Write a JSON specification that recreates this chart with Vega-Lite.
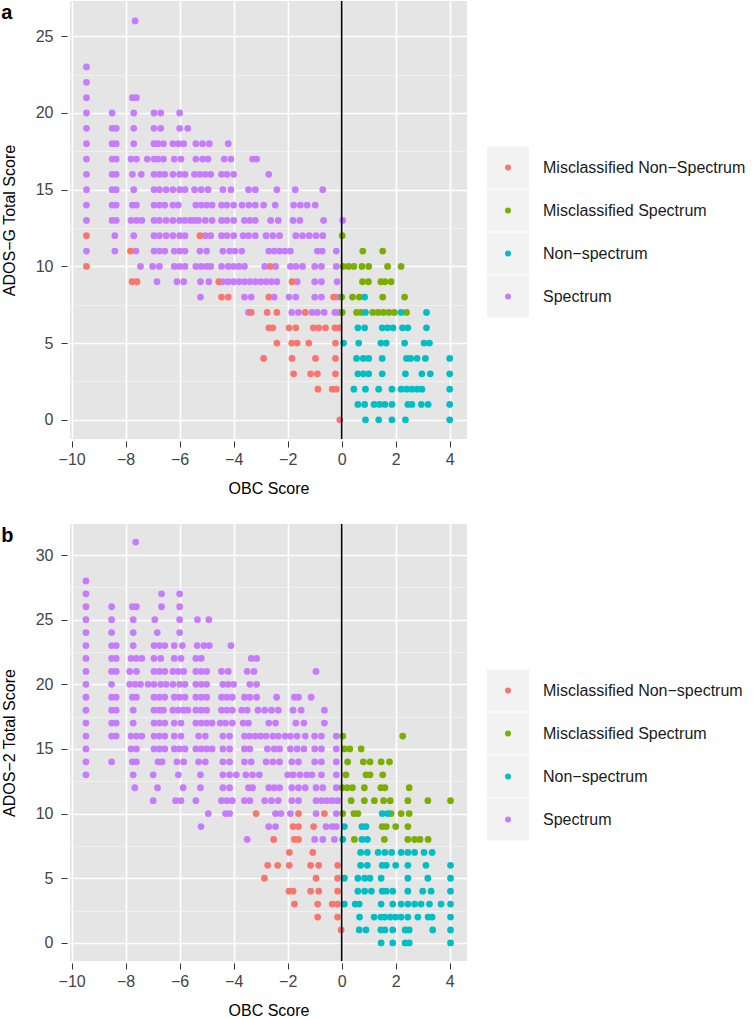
{
"$schema": "https://vega.github.io/schema/vega-lite/v6.json",
"padding": {"left": 1, "top": 0, "right": 0, "bottom": 0},
"datasets": {
"a": [
{"x":-7.65,"y":26,"g":"S"},
{"x":-9.45,"y":23,"g":"S"},
{"x":-9.45,"y":22,"g":"S"},
{"x":-9.45,"y":21,"g":"S"},{"x":-7.75,"y":21,"g":"S"},{"x":-7.6,"y":21,"g":"S"},
{"x":-9.45,"y":20,"g":"S"},{"x":-8.5,"y":20,"g":"S"},{"x":-7.7,"y":20,"g":"S"},{"x":-6.95,"y":20,"g":"S"},{"x":-6.7,"y":20,"g":"S"},{"x":-6.0,"y":20,"g":"S"},
{"x":-9.45,"y":19,"g":"S"},{"x":-8.5,"y":19,"g":"S"},{"x":-8.35,"y":19,"g":"S"},{"x":-7.7,"y":19,"g":"S"},{"x":-6.95,"y":19,"g":"S"},{"x":-6.7,"y":19,"g":"S"},{"x":-6.0,"y":19,"g":"S"},{"x":-5.7,"y":19,"g":"S"},
{"x":-9.45,"y":18,"g":"S"},{"x":-8.5,"y":18,"g":"S"},{"x":-8.35,"y":18,"g":"S"},{"x":-7.7,"y":18,"g":"S"},{"x":-6.95,"y":18,"g":"S"},{"x":-6.8,"y":18,"g":"S"},{"x":-6.6,"y":18,"g":"S"},{"x":-6.25,"y":18,"g":"S"},{"x":-6.05,"y":18,"g":"S"},{"x":-5.85,"y":18,"g":"S"},{"x":-5.4,"y":18,"g":"S"},{"x":-5.15,"y":18,"g":"S"},{"x":-4.9,"y":18,"g":"S"},{"x":-4.2,"y":18,"g":"S"},
{"x":-9.45,"y":17,"g":"S"},{"x":-8.5,"y":17,"g":"S"},{"x":-8.35,"y":17,"g":"S"},{"x":-7.8,"y":17,"g":"S"},{"x":-7.6,"y":17,"g":"S"},{"x":-7.2,"y":17,"g":"S"},{"x":-6.95,"y":17,"g":"S"},{"x":-6.8,"y":17,"g":"S"},{"x":-6.6,"y":17,"g":"S"},{"x":-6.2,"y":17,"g":"S"},{"x":-5.95,"y":17,"g":"S"},{"x":-5.4,"y":17,"g":"S"},{"x":-5.15,"y":17,"g":"S"},{"x":-4.95,"y":17,"g":"S"},{"x":-4.35,"y":17,"g":"S"},{"x":-4.1,"y":17,"g":"S"},{"x":-3.3,"y":17,"g":"S"},{"x":-3.15,"y":17,"g":"S"},
{"x":-9.45,"y":16,"g":"S"},{"x":-8.5,"y":16,"g":"S"},{"x":-8.35,"y":16,"g":"S"},{"x":-7.75,"y":16,"g":"S"},{"x":-7.42,"y":16,"g":"S"},{"x":-6.95,"y":16,"g":"S"},{"x":-6.75,"y":16,"g":"S"},{"x":-6.55,"y":16,"g":"S"},{"x":-6.25,"y":16,"g":"S"},{"x":-6.0,"y":16,"g":"S"},{"x":-5.8,"y":16,"g":"S"},{"x":-5.45,"y":16,"g":"S"},{"x":-5.25,"y":16,"g":"S"},{"x":-5.05,"y":16,"g":"S"},{"x":-4.85,"y":16,"g":"S"},{"x":-4.45,"y":16,"g":"S"},{"x":-4.25,"y":16,"g":"S"},{"x":-4.0,"y":16,"g":"S"},{"x":-2.7,"y":16,"g":"S"},
{"x":-9.45,"y":15,"g":"S"},{"x":-8.5,"y":15,"g":"S"},{"x":-8.35,"y":15,"g":"S"},{"x":-7.7,"y":15,"g":"S"},{"x":-6.95,"y":15,"g":"S"},{"x":-6.75,"y":15,"g":"S"},{"x":-6.5,"y":15,"g":"S"},{"x":-6.25,"y":15,"g":"S"},{"x":-6.0,"y":15,"g":"S"},{"x":-5.8,"y":15,"g":"S"},{"x":-5.45,"y":15,"g":"S"},{"x":-5.2,"y":15,"g":"S"},{"x":-4.95,"y":15,"g":"S"},{"x":-4.4,"y":15,"g":"S"},{"x":-4.1,"y":15,"g":"S"},{"x":-3.45,"y":15,"g":"S"},{"x":-3.2,"y":15,"g":"S"},{"x":-2.4,"y":15,"g":"S"},{"x":-1.72,"y":15,"g":"S"},{"x":-0.7,"y":15,"g":"S"},
{"x":-9.45,"y":14,"g":"S"},{"x":-8.5,"y":14,"g":"S"},{"x":-8.35,"y":14,"g":"S"},{"x":-7.75,"y":14,"g":"S"},{"x":-7.6,"y":14,"g":"S"},{"x":-6.95,"y":14,"g":"S"},{"x":-6.75,"y":14,"g":"S"},{"x":-6.55,"y":14,"g":"S"},{"x":-6.25,"y":14,"g":"S"},{"x":-6.05,"y":14,"g":"S"},{"x":-5.4,"y":14,"g":"S"},{"x":-5.2,"y":14,"g":"S"},{"x":-5.0,"y":14,"g":"S"},{"x":-4.8,"y":14,"g":"S"},{"x":-4.45,"y":14,"g":"S"},{"x":-4.25,"y":14,"g":"S"},{"x":-4.0,"y":14,"g":"S"},{"x":-3.69,"y":14,"g":"S"},{"x":-3.44,"y":14,"g":"S"},{"x":-3.2,"y":14,"g":"S"},{"x":-2.89,"y":14,"g":"S"},{"x":-2.46,"y":14,"g":"S"},{"x":-1.78,"y":14,"g":"S"},{"x":-1.53,"y":14,"g":"S"},{"x":-1.28,"y":14,"g":"S"},{"x":-0.98,"y":14,"g":"S"},
{"x":-9.45,"y":13,"g":"S"},{"x":-8.5,"y":13,"g":"S"},{"x":-8.35,"y":13,"g":"S"},{"x":-7.8,"y":13,"g":"S"},{"x":-7.6,"y":13,"g":"S"},{"x":-7.4,"y":13,"g":"S"},{"x":-6.95,"y":13,"g":"S"},{"x":-6.75,"y":13,"g":"S"},{"x":-6.5,"y":13,"g":"S"},{"x":-6.25,"y":13,"g":"S"},{"x":-6.0,"y":13,"g":"S"},{"x":-5.8,"y":13,"g":"S"},{"x":-5.6,"y":13,"g":"S"},{"x":-5.45,"y":13,"g":"S"},{"x":-5.3,"y":13,"g":"S"},{"x":-5.05,"y":13,"g":"S"},{"x":-4.8,"y":13,"g":"S"},{"x":-4.45,"y":13,"g":"S"},{"x":-4.25,"y":13,"g":"S"},{"x":-4.0,"y":13,"g":"S"},{"x":-3.6,"y":13,"g":"S"},{"x":-3.4,"y":13,"g":"S"},{"x":-3.2,"y":13,"g":"S"},{"x":-2.63,"y":13,"g":"S"},{"x":-2.35,"y":13,"g":"S"},{"x":-1.8,"y":13,"g":"S"},{"x":-1.55,"y":13,"g":"S"},{"x":-0.67,"y":13,"g":"S"},{"x":0.04,"y":13,"g":"S"},
{"x":-8.4,"y":12,"g":"S"},{"x":-7.7,"y":12,"g":"S"},{"x":-6.95,"y":12,"g":"S"},{"x":-6.75,"y":12,"g":"S"},{"x":-6.5,"y":12,"g":"S"},{"x":-6.25,"y":12,"g":"S"},{"x":-6.0,"y":12,"g":"S"},{"x":-5.8,"y":12,"g":"S"},{"x":-5.05,"y":12,"g":"S"},{"x":-4.85,"y":12,"g":"S"},{"x":-4.45,"y":12,"g":"S"},{"x":-4.25,"y":12,"g":"S"},{"x":-4.0,"y":12,"g":"S"},{"x":-3.65,"y":12,"g":"S"},{"x":-3.45,"y":12,"g":"S"},{"x":-3.2,"y":12,"g":"S"},{"x":-2.8,"y":12,"g":"S"},{"x":-2.55,"y":12,"g":"S"},{"x":-2.3,"y":12,"g":"S"},{"x":-1.7,"y":12,"g":"S"},{"x":-1.45,"y":12,"g":"S"},{"x":-1.2,"y":12,"g":"S"},{"x":-0.95,"y":12,"g":"S"},{"x":-0.7,"y":12,"g":"S"},{"x":-9.45,"y":12,"g":"MN"},{"x":-5.25,"y":12,"g":"MN"},{"x":0.02,"y":12,"g":"MS"},
{"x":-9.45,"y":11,"g":"S"},{"x":-8.4,"y":11,"g":"S"},{"x":-7.62,"y":11,"g":"S"},{"x":-6.95,"y":11,"g":"S"},{"x":-6.75,"y":11,"g":"S"},{"x":-6.55,"y":11,"g":"S"},{"x":-6.2,"y":11,"g":"S"},{"x":-6.0,"y":11,"g":"S"},{"x":-5.8,"y":11,"g":"S"},{"x":-5.25,"y":11,"g":"S"},{"x":-5.0,"y":11,"g":"S"},{"x":-4.4,"y":11,"g":"S"},{"x":-4.15,"y":11,"g":"S"},{"x":-3.95,"y":11,"g":"S"},{"x":-3.7,"y":11,"g":"S"},{"x":-2.7,"y":11,"g":"S"},{"x":-2.5,"y":11,"g":"S"},{"x":-2.3,"y":11,"g":"S"},{"x":-2.1,"y":11,"g":"S"},{"x":-1.9,"y":11,"g":"S"},{"x":-0.9,"y":11,"g":"S"},{"x":-0.72,"y":11,"g":"S"},{"x":-0.2,"y":11,"g":"S"},{"x":-7.82,"y":11,"g":"MN"},{"x":0.78,"y":11,"g":"MS"},{"x":1.52,"y":11,"g":"MS"},
{"x":-7.45,"y":10,"g":"S"},{"x":-7.0,"y":10,"g":"S"},{"x":-6.75,"y":10,"g":"S"},{"x":-6.2,"y":10,"g":"S"},{"x":-6.0,"y":10,"g":"S"},{"x":-5.8,"y":10,"g":"S"},{"x":-5.4,"y":10,"g":"S"},{"x":-5.2,"y":10,"g":"S"},{"x":-5.0,"y":10,"g":"S"},{"x":-4.85,"y":10,"g":"S"},{"x":-4.45,"y":10,"g":"S"},{"x":-4.2,"y":10,"g":"S"},{"x":-4.0,"y":10,"g":"S"},{"x":-3.8,"y":10,"g":"S"},{"x":-3.6,"y":10,"g":"S"},{"x":-2.85,"y":10,"g":"S"},{"x":-2.45,"y":10,"g":"S"},{"x":-1.9,"y":10,"g":"S"},{"x":-1.7,"y":10,"g":"S"},{"x":-1.45,"y":10,"g":"S"},{"x":-1.0,"y":10,"g":"S"},{"x":-0.75,"y":10,"g":"S"},{"x":-0.2,"y":10,"g":"S"},{"x":-9.45,"y":10,"g":"MN"},{"x":-2.65,"y":10,"g":"MN"},{"x":0.05,"y":10,"g":"MS"},{"x":0.25,"y":10,"g":"MS"},{"x":0.45,"y":10,"g":"MS"},{"x":0.75,"y":10,"g":"MS"},{"x":1.0,"y":10,"g":"MS"},{"x":1.7,"y":10,"g":"MS"},{"x":2.2,"y":10,"g":"MS"},
{"x":-6.84,"y":9,"g":"S"},{"x":-6.1,"y":9,"g":"S"},{"x":-5.85,"y":9,"g":"S"},{"x":-5.23,"y":9,"g":"S"},{"x":-4.92,"y":9,"g":"S"},{"x":-4.4,"y":9,"g":"S"},{"x":-4.2,"y":9,"g":"S"},{"x":-4.0,"y":9,"g":"S"},{"x":-3.8,"y":9,"g":"S"},{"x":-3.6,"y":9,"g":"S"},{"x":-3.4,"y":9,"g":"S"},{"x":-3.2,"y":9,"g":"S"},{"x":-3.0,"y":9,"g":"S"},{"x":-2.8,"y":9,"g":"S"},{"x":-2.6,"y":9,"g":"S"},{"x":-2.4,"y":9,"g":"S"},{"x":-1.65,"y":9,"g":"S"},{"x":-1.0,"y":9,"g":"S"},{"x":-0.75,"y":9,"g":"S"},{"x":-0.17,"y":9,"g":"S"},{"x":-7.76,"y":9,"g":"MN"},{"x":-7.58,"y":9,"g":"MN"},{"x":-4.55,"y":9,"g":"MN"},{"x":-1.84,"y":9,"g":"MN"},{"x":0.77,"y":9,"g":"MS"},{"x":0.99,"y":9,"g":"MS"},{"x":1.45,"y":9,"g":"MS"},{"x":1.6,"y":9,"g":"MS"},{"x":1.83,"y":9,"g":"MS"},
{"x":-5.23,"y":8,"g":"S"},{"x":-3.6,"y":8,"g":"S"},{"x":-3.35,"y":8,"g":"S"},{"x":-2.5,"y":8,"g":"S"},{"x":-1.95,"y":8,"g":"S"},{"x":-1.7,"y":8,"g":"S"},{"x":-1.0,"y":8,"g":"S"},{"x":-0.75,"y":8,"g":"S"},{"x":-0.15,"y":8,"g":"S"},{"x":-4.45,"y":8,"g":"MN"},{"x":-4.2,"y":8,"g":"MN"},{"x":-2.7,"y":8,"g":"MN"},{"x":-0.3,"y":8,"g":"MN"},{"x":0.0,"y":8,"g":"MS"},{"x":0.4,"y":8,"g":"MS"},{"x":0.65,"y":8,"g":"MS"},{"x":1.52,"y":8,"g":"MS"},{"x":2.33,"y":8,"g":"MS"},{"x":0.85,"y":8,"g":"N"},
{"x":-3.45,"y":7,"g":"S"},{"x":-1.85,"y":7,"g":"S"},{"x":-1.6,"y":7,"g":"S"},{"x":-1.1,"y":7,"g":"S"},{"x":-0.9,"y":7,"g":"S"},{"x":-0.65,"y":7,"g":"S"},{"x":-0.25,"y":7,"g":"S"},{"x":-0.1,"y":7,"g":"S"},{"x":-3.35,"y":7,"g":"MN"},{"x":-2.76,"y":7,"g":"MN"},{"x":-2.4,"y":7,"g":"MN"},{"x":-1.35,"y":7,"g":"MN"},{"x":0.02,"y":7,"g":"MS"},{"x":0.55,"y":7,"g":"MS"},{"x":0.72,"y":7,"g":"MS"},{"x":1.15,"y":7,"g":"MS"},{"x":1.35,"y":7,"g":"MS"},{"x":1.55,"y":7,"g":"MS"},{"x":1.75,"y":7,"g":"MS"},{"x":1.95,"y":7,"g":"MS"},{"x":2.4,"y":7,"g":"MS"},{"x":0.88,"y":7,"g":"N"},{"x":2.2,"y":7,"g":"N"},{"x":3.14,"y":7,"g":"N"},
{"x":-2.7,"y":6,"g":"MN"},{"x":-2.55,"y":6,"g":"MN"},{"x":-1.95,"y":6,"g":"MN"},{"x":-1.7,"y":6,"g":"MN"},{"x":-1.05,"y":6,"g":"MN"},{"x":-0.85,"y":6,"g":"MN"},{"x":-0.6,"y":6,"g":"MN"},{"x":-0.25,"y":6,"g":"MN"},{"x":-0.1,"y":6,"g":"MN"},{"x":0.6,"y":6,"g":"N"},{"x":0.85,"y":6,"g":"N"},{"x":1.5,"y":6,"g":"N"},{"x":1.7,"y":6,"g":"N"},{"x":1.9,"y":6,"g":"N"},{"x":2.25,"y":6,"g":"N"},{"x":2.45,"y":6,"g":"N"},{"x":3.14,"y":6,"g":"N"},
{"x":-2.4,"y":5,"g":"MN"},{"x":-1.85,"y":5,"g":"MN"},{"x":-1.65,"y":5,"g":"MN"},{"x":-1.22,"y":5,"g":"MN"},{"x":-0.23,"y":5,"g":"MN"},{"x":0.07,"y":5,"g":"N"},{"x":0.63,"y":5,"g":"N"},{"x":1.45,"y":5,"g":"N"},{"x":1.65,"y":5,"g":"N"},{"x":2.33,"y":5,"g":"N"},{"x":3.05,"y":5,"g":"N"},{"x":3.25,"y":5,"g":"N"},
{"x":-2.89,"y":4,"g":"MN"},{"x":-1.84,"y":4,"g":"MN"},{"x":-0.97,"y":4,"g":"MN"},{"x":-0.23,"y":4,"g":"MN"},{"x":0.55,"y":4,"g":"N"},{"x":0.8,"y":4,"g":"N"},{"x":1.0,"y":4,"g":"N"},{"x":1.5,"y":4,"g":"N"},{"x":2.4,"y":4,"g":"N"},{"x":2.55,"y":4,"g":"N"},{"x":2.79,"y":4,"g":"N"},{"x":3.1,"y":4,"g":"N"},{"x":4.0,"y":4,"g":"N"},
{"x":-1.78,"y":3,"g":"MN"},{"x":-1.15,"y":3,"g":"MN"},{"x":-0.9,"y":3,"g":"MN"},{"x":-0.23,"y":3,"g":"MN"},{"x":0.6,"y":3,"g":"N"},{"x":0.8,"y":3,"g":"N"},{"x":1.0,"y":3,"g":"N"},{"x":1.5,"y":3,"g":"N"},{"x":2.36,"y":3,"g":"N"},{"x":2.97,"y":3,"g":"N"},{"x":3.28,"y":3,"g":"N"},{"x":4.0,"y":3,"g":"N"},
{"x":-0.88,"y":2,"g":"MN"},{"x":-0.35,"y":2,"g":"MN"},{"x":-0.2,"y":2,"g":"MN"},{"x":0.45,"y":2,"g":"N"},{"x":0.88,"y":2,"g":"N"},{"x":1.37,"y":2,"g":"N"},{"x":1.86,"y":2,"g":"N"},{"x":2.2,"y":2,"g":"N"},{"x":2.4,"y":2,"g":"N"},{"x":2.6,"y":2,"g":"N"},{"x":2.79,"y":2,"g":"N"},{"x":2.97,"y":2,"g":"N"},{"x":4.0,"y":2,"g":"N"},
{"x":0.6,"y":1,"g":"N"},{"x":0.85,"y":1,"g":"N"},{"x":1.2,"y":1,"g":"N"},{"x":1.4,"y":1,"g":"N"},{"x":1.6,"y":1,"g":"N"},{"x":1.86,"y":1,"g":"N"},{"x":2.45,"y":1,"g":"N"},{"x":2.6,"y":1,"g":"N"},{"x":2.95,"y":1,"g":"N"},{"x":3.2,"y":1,"g":"N"},{"x":4.0,"y":1,"g":"N"},
{"x":-0.07,"y":0,"g":"MN"},{"x":0.88,"y":0,"g":"N"},{"x":1.37,"y":0,"g":"N"},{"x":1.86,"y":0,"g":"N"},{"x":2.36,"y":0,"g":"N"},{"x":4.0,"y":0,"g":"N"}
],
"b": [
{"x":-7.63,"y":31,"g":"S"},
{"x":-9.47,"y":28,"g":"S"},
{"x":-9.47,"y":27,"g":"S"},{"x":-6.67,"y":27,"g":"S"},{"x":-6.0,"y":27,"g":"S"},
{"x":-9.47,"y":26,"g":"S"},{"x":-8.52,"y":26,"g":"S"},{"x":-7.75,"y":26,"g":"S"},{"x":-7.6,"y":26,"g":"S"},{"x":-6.67,"y":26,"g":"S"},{"x":-6.0,"y":26,"g":"S"},
{"x":-9.47,"y":25,"g":"S"},{"x":-8.52,"y":25,"g":"S"},{"x":-7.72,"y":25,"g":"S"},{"x":-6.92,"y":25,"g":"S"},{"x":-6.0,"y":25,"g":"S"},{"x":-5.34,"y":25,"g":"S"},{"x":-4.92,"y":25,"g":"S"},
{"x":-9.47,"y":24,"g":"S"},{"x":-8.52,"y":24,"g":"S"},{"x":-7.72,"y":24,"g":"S"},{"x":-6.83,"y":24,"g":"S"},{"x":-6.0,"y":24,"g":"S"},
{"x":-9.47,"y":23,"g":"S"},{"x":-8.52,"y":23,"g":"S"},{"x":-8.35,"y":23,"g":"S"},{"x":-7.72,"y":23,"g":"S"},{"x":-6.95,"y":23,"g":"S"},{"x":-6.75,"y":23,"g":"S"},{"x":-6.55,"y":23,"g":"S"},{"x":-6.2,"y":23,"g":"S"},{"x":-5.9,"y":23,"g":"S"},{"x":-5.35,"y":23,"g":"S"},{"x":-5.1,"y":23,"g":"S"},{"x":-4.9,"y":23,"g":"S"},{"x":-4.1,"y":23,"g":"S"},
{"x":-9.47,"y":22,"g":"S"},{"x":-8.52,"y":22,"g":"S"},{"x":-8.35,"y":22,"g":"S"},{"x":-7.8,"y":22,"g":"S"},{"x":-7.6,"y":22,"g":"S"},{"x":-7.4,"y":22,"g":"S"},{"x":-6.95,"y":22,"g":"S"},{"x":-6.7,"y":22,"g":"S"},{"x":-6.2,"y":22,"g":"S"},{"x":-5.95,"y":22,"g":"S"},{"x":-5.4,"y":22,"g":"S"},{"x":-5.2,"y":22,"g":"S"},{"x":-3.35,"y":22,"g":"S"},{"x":-3.15,"y":22,"g":"S"},
{"x":-9.47,"y":21,"g":"S"},{"x":-8.52,"y":21,"g":"S"},{"x":-8.35,"y":21,"g":"S"},{"x":-7.85,"y":21,"g":"S"},{"x":-7.6,"y":21,"g":"S"},{"x":-6.95,"y":21,"g":"S"},{"x":-6.75,"y":21,"g":"S"},{"x":-6.55,"y":21,"g":"S"},{"x":-6.25,"y":21,"g":"S"},{"x":-6.05,"y":21,"g":"S"},{"x":-5.85,"y":21,"g":"S"},{"x":-5.4,"y":21,"g":"S"},{"x":-5.2,"y":21,"g":"S"},{"x":-5.0,"y":21,"g":"S"},{"x":-4.45,"y":21,"g":"S"},{"x":-4.2,"y":21,"g":"S"},{"x":-3.5,"y":21,"g":"S"},{"x":-3.25,"y":21,"g":"S"},{"x":-0.95,"y":21,"g":"S"},
{"x":-9.47,"y":20,"g":"S"},{"x":-8.52,"y":20,"g":"S"},{"x":-7.85,"y":20,"g":"S"},{"x":-7.65,"y":20,"g":"S"},{"x":-7.45,"y":20,"g":"S"},{"x":-7.17,"y":20,"g":"S"},{"x":-6.95,"y":20,"g":"S"},{"x":-6.7,"y":20,"g":"S"},{"x":-6.5,"y":20,"g":"S"},{"x":-6.25,"y":20,"g":"S"},{"x":-6.0,"y":20,"g":"S"},{"x":-5.8,"y":20,"g":"S"},{"x":-5.4,"y":20,"g":"S"},{"x":-5.2,"y":20,"g":"S"},{"x":-5.0,"y":20,"g":"S"},{"x":-4.4,"y":20,"g":"S"},{"x":-4.2,"y":20,"g":"S"},{"x":-4.0,"y":20,"g":"S"},{"x":-3.4,"y":20,"g":"S"},{"x":-3.15,"y":20,"g":"S"},
{"x":-9.47,"y":19,"g":"S"},{"x":-8.52,"y":19,"g":"S"},{"x":-8.35,"y":19,"g":"S"},{"x":-7.75,"y":19,"g":"S"},{"x":-7.6,"y":19,"g":"S"},{"x":-6.95,"y":19,"g":"S"},{"x":-6.75,"y":19,"g":"S"},{"x":-6.55,"y":19,"g":"S"},{"x":-6.2,"y":19,"g":"S"},{"x":-6.0,"y":19,"g":"S"},{"x":-5.8,"y":19,"g":"S"},{"x":-5.4,"y":19,"g":"S"},{"x":-5.2,"y":19,"g":"S"},{"x":-5.0,"y":19,"g":"S"},{"x":-4.45,"y":19,"g":"S"},{"x":-4.25,"y":19,"g":"S"},{"x":-4.05,"y":19,"g":"S"},{"x":-3.6,"y":19,"g":"S"},{"x":-3.4,"y":19,"g":"S"},{"x":-3.15,"y":19,"g":"S"},{"x":-2.41,"y":19,"g":"S"},{"x":-1.75,"y":19,"g":"S"},{"x":-1.6,"y":19,"g":"S"},{"x":-1.13,"y":19,"g":"S"},
{"x":-9.47,"y":18,"g":"S"},{"x":-8.52,"y":18,"g":"S"},{"x":-8.35,"y":18,"g":"S"},{"x":-7.72,"y":18,"g":"S"},{"x":-6.95,"y":18,"g":"S"},{"x":-6.75,"y":18,"g":"S"},{"x":-6.6,"y":18,"g":"S"},{"x":-6.25,"y":18,"g":"S"},{"x":-6.05,"y":18,"g":"S"},{"x":-5.85,"y":18,"g":"S"},{"x":-5.7,"y":18,"g":"S"},{"x":-5.4,"y":18,"g":"S"},{"x":-5.2,"y":18,"g":"S"},{"x":-5.0,"y":18,"g":"S"},{"x":-4.45,"y":18,"g":"S"},{"x":-4.25,"y":18,"g":"S"},{"x":-4.05,"y":18,"g":"S"},{"x":-3.7,"y":18,"g":"S"},{"x":-3.5,"y":18,"g":"S"},{"x":-3.1,"y":18,"g":"S"},{"x":-2.85,"y":18,"g":"S"},{"x":-2.6,"y":18,"g":"S"},{"x":-2.35,"y":18,"g":"S"},{"x":-1.8,"y":18,"g":"S"},{"x":-1.5,"y":18,"g":"S"},{"x":-0.64,"y":18,"g":"S"},
{"x":-9.47,"y":17,"g":"S"},{"x":-8.52,"y":17,"g":"S"},{"x":-8.35,"y":17,"g":"S"},{"x":-7.72,"y":17,"g":"S"},{"x":-6.95,"y":17,"g":"S"},{"x":-6.75,"y":17,"g":"S"},{"x":-6.55,"y":17,"g":"S"},{"x":-6.2,"y":17,"g":"S"},{"x":-5.95,"y":17,"g":"S"},{"x":-5.4,"y":17,"g":"S"},{"x":-5.2,"y":17,"g":"S"},{"x":-5.0,"y":17,"g":"S"},{"x":-4.8,"y":17,"g":"S"},{"x":-4.5,"y":17,"g":"S"},{"x":-4.3,"y":17,"g":"S"},{"x":-4.05,"y":17,"g":"S"},{"x":-3.65,"y":17,"g":"S"},{"x":-3.45,"y":17,"g":"S"},{"x":-2.7,"y":17,"g":"S"},{"x":-2.45,"y":17,"g":"S"},{"x":-1.7,"y":17,"g":"S"},{"x":-1.4,"y":17,"g":"S"},{"x":-0.64,"y":17,"g":"S"},
{"x":-9.47,"y":16,"g":"S"},{"x":-8.52,"y":16,"g":"S"},{"x":-8.35,"y":16,"g":"S"},{"x":-7.8,"y":16,"g":"S"},{"x":-7.6,"y":16,"g":"S"},{"x":-7.4,"y":16,"g":"S"},{"x":-6.95,"y":16,"g":"S"},{"x":-6.75,"y":16,"g":"S"},{"x":-6.55,"y":16,"g":"S"},{"x":-6.2,"y":16,"g":"S"},{"x":-5.95,"y":16,"g":"S"},{"x":-5.3,"y":16,"g":"S"},{"x":-5.05,"y":16,"g":"S"},{"x":-4.4,"y":16,"g":"S"},{"x":-4.15,"y":16,"g":"S"},{"x":-3.6,"y":16,"g":"S"},{"x":-3.4,"y":16,"g":"S"},{"x":-3.2,"y":16,"g":"S"},{"x":-3.0,"y":16,"g":"S"},{"x":-2.8,"y":16,"g":"S"},{"x":-2.55,"y":16,"g":"S"},{"x":-2.35,"y":16,"g":"S"},{"x":-2.1,"y":16,"g":"S"},{"x":-1.9,"y":16,"g":"S"},{"x":-1.65,"y":16,"g":"S"},{"x":-1.35,"y":16,"g":"S"},{"x":-1.0,"y":16,"g":"S"},{"x":-0.75,"y":16,"g":"S"},{"x":-0.2,"y":16,"g":"S"},{"x":0.04,"y":16,"g":"MS"},{"x":2.26,"y":16,"g":"MS"},
{"x":-9.47,"y":15,"g":"S"},{"x":-7.8,"y":15,"g":"S"},{"x":-7.6,"y":15,"g":"S"},{"x":-6.95,"y":15,"g":"S"},{"x":-6.75,"y":15,"g":"S"},{"x":-6.55,"y":15,"g":"S"},{"x":-6.2,"y":15,"g":"S"},{"x":-6.0,"y":15,"g":"S"},{"x":-5.8,"y":15,"g":"S"},{"x":-5.4,"y":15,"g":"S"},{"x":-5.2,"y":15,"g":"S"},{"x":-5.0,"y":15,"g":"S"},{"x":-4.8,"y":15,"g":"S"},{"x":-4.4,"y":15,"g":"S"},{"x":-4.15,"y":15,"g":"S"},{"x":-3.6,"y":15,"g":"S"},{"x":-3.4,"y":15,"g":"S"},{"x":-2.75,"y":15,"g":"S"},{"x":-2.5,"y":15,"g":"S"},{"x":-2.3,"y":15,"g":"S"},{"x":-1.9,"y":15,"g":"S"},{"x":-1.65,"y":15,"g":"S"},{"x":-1.4,"y":15,"g":"S"},{"x":-1.0,"y":15,"g":"S"},{"x":-0.75,"y":15,"g":"S"},{"x":-0.2,"y":15,"g":"S"},{"x":0.1,"y":15,"g":"MS"},{"x":0.3,"y":15,"g":"MS"},{"x":0.72,"y":15,"g":"MS"},
{"x":-9.47,"y":14,"g":"S"},{"x":-8.52,"y":14,"g":"S"},{"x":-7.75,"y":14,"g":"S"},{"x":-7.6,"y":14,"g":"S"},{"x":-6.8,"y":14,"g":"S"},{"x":-6.65,"y":14,"g":"S"},{"x":-6.1,"y":14,"g":"S"},{"x":-5.85,"y":14,"g":"S"},{"x":-5.3,"y":14,"g":"S"},{"x":-5.05,"y":14,"g":"S"},{"x":-4.4,"y":14,"g":"S"},{"x":-4.15,"y":14,"g":"S"},{"x":-3.6,"y":14,"g":"S"},{"x":-3.35,"y":14,"g":"S"},{"x":-2.8,"y":14,"g":"S"},{"x":-2.55,"y":14,"g":"S"},{"x":-2.3,"y":14,"g":"S"},{"x":-1.85,"y":14,"g":"S"},{"x":-1.6,"y":14,"g":"S"},{"x":-1.0,"y":14,"g":"S"},{"x":-0.75,"y":14,"g":"S"},{"x":-0.2,"y":14,"g":"S"},{"x":0.22,"y":14,"g":"MS"},{"x":0.8,"y":14,"g":"MS"},{"x":1.05,"y":14,"g":"MS"},{"x":1.46,"y":14,"g":"MS"},{"x":1.77,"y":14,"g":"MS"},
{"x":-9.47,"y":13,"g":"S"},{"x":-7.72,"y":13,"g":"S"},{"x":-6.98,"y":13,"g":"S"},{"x":-6.05,"y":13,"g":"S"},{"x":-5.23,"y":13,"g":"S"},{"x":-4.4,"y":13,"g":"S"},{"x":-4.15,"y":13,"g":"S"},{"x":-3.9,"y":13,"g":"S"},{"x":-3.55,"y":13,"g":"S"},{"x":-3.3,"y":13,"g":"S"},{"x":-3.05,"y":13,"g":"S"},{"x":-2.0,"y":13,"g":"S"},{"x":-1.8,"y":13,"g":"S"},{"x":-1.55,"y":13,"g":"S"},{"x":-1.3,"y":13,"g":"S"},{"x":-1.1,"y":13,"g":"S"},{"x":-0.75,"y":13,"g":"S"},{"x":-0.2,"y":13,"g":"S"},{"x":0.16,"y":13,"g":"MS"},{"x":0.9,"y":13,"g":"MS"},{"x":1.05,"y":13,"g":"MS"},{"x":1.52,"y":13,"g":"MS"},
{"x":-7.66,"y":12,"g":"S"},{"x":-6.82,"y":12,"g":"S"},{"x":-5.87,"y":12,"g":"S"},{"x":-5.23,"y":12,"g":"S"},{"x":-4.4,"y":12,"g":"S"},{"x":-4.15,"y":12,"g":"S"},{"x":-3.45,"y":12,"g":"S"},{"x":-3.3,"y":12,"g":"S"},{"x":-2.7,"y":12,"g":"S"},{"x":-2.5,"y":12,"g":"S"},{"x":-2.3,"y":12,"g":"S"},{"x":-1.85,"y":12,"g":"S"},{"x":-1.6,"y":12,"g":"S"},{"x":-1.35,"y":12,"g":"S"},{"x":-0.95,"y":12,"g":"S"},{"x":-0.7,"y":12,"g":"S"},{"x":-0.2,"y":12,"g":"S"},{"x":0.02,"y":12,"g":"MS"},{"x":0.2,"y":12,"g":"MS"},{"x":0.4,"y":12,"g":"MS"},{"x":0.84,"y":12,"g":"MS"},{"x":1.45,"y":12,"g":"MS"},{"x":1.6,"y":12,"g":"MS"},{"x":2.5,"y":12,"g":"MS"},
{"x":-6.98,"y":11,"g":"S"},{"x":-6.15,"y":11,"g":"S"},{"x":-5.95,"y":11,"g":"S"},{"x":-5.4,"y":11,"g":"S"},{"x":-4.45,"y":11,"g":"S"},{"x":-4.25,"y":11,"g":"S"},{"x":-4.05,"y":11,"g":"S"},{"x":-3.6,"y":11,"g":"S"},{"x":-3.4,"y":11,"g":"S"},{"x":-2.85,"y":11,"g":"S"},{"x":-2.6,"y":11,"g":"S"},{"x":-2.35,"y":11,"g":"S"},{"x":-1.85,"y":11,"g":"S"},{"x":-1.6,"y":11,"g":"S"},{"x":-0.95,"y":11,"g":"S"},{"x":-0.75,"y":11,"g":"S"},{"x":-0.55,"y":11,"g":"S"},{"x":-0.35,"y":11,"g":"S"},{"x":-0.15,"y":11,"g":"S"},{"x":0.35,"y":11,"g":"MS"},{"x":0.84,"y":11,"g":"MS"},{"x":1.21,"y":11,"g":"MS"},{"x":1.55,"y":11,"g":"MS"},{"x":1.8,"y":11,"g":"MS"},{"x":2.45,"y":11,"g":"MS"},{"x":3.19,"y":11,"g":"MS"},{"x":4.03,"y":11,"g":"MS"},
{"x":-4.94,"y":10,"g":"S"},{"x":-4.3,"y":10,"g":"S"},{"x":-4.15,"y":10,"g":"S"},{"x":-2.45,"y":10,"g":"S"},{"x":-2.25,"y":10,"g":"S"},{"x":-1.9,"y":10,"g":"S"},{"x":-0.95,"y":10,"g":"S"},{"x":-0.2,"y":10,"g":"S"},{"x":-3.17,"y":10,"g":"MN"},{"x":-1.6,"y":10,"g":"MN"},{"x":-0.64,"y":10,"g":"MN"},{"x":0.04,"y":10,"g":"MS"},{"x":0.45,"y":10,"g":"MS"},{"x":0.6,"y":10,"g":"MS"},{"x":1.83,"y":10,"g":"MS"},{"x":2.2,"y":10,"g":"MS"},{"x":2.5,"y":10,"g":"MS"},{"x":1.5,"y":10,"g":"N"},{"x":1.7,"y":10,"g":"N"},
{"x":-5.21,"y":9,"g":"S"},{"x":-2.7,"y":9,"g":"S"},{"x":-2.45,"y":9,"g":"S"},{"x":-0.58,"y":9,"g":"S"},{"x":-0.35,"y":9,"g":"S"},{"x":-0.2,"y":9,"g":"S"},{"x":-1.8,"y":9,"g":"MN"},{"x":-1.6,"y":9,"g":"MN"},{"x":-1.04,"y":9,"g":"MN"},{"x":0.1,"y":9,"g":"N"},{"x":0.75,"y":9,"g":"N"},{"x":0.9,"y":9,"g":"N"},{"x":1.5,"y":9,"g":"MS"},{"x":1.65,"y":9,"g":"MS"},{"x":2.0,"y":9,"g":"MS"},{"x":2.45,"y":9,"g":"MS"},
{"x":-3.5,"y":8,"g":"S"},{"x":-1.0,"y":8,"g":"S"},{"x":-0.7,"y":8,"g":"S"},{"x":-0.27,"y":8,"g":"S"},{"x":-2.52,"y":8,"g":"MN"},{"x":-1.75,"y":8,"g":"MN"},{"x":-1.6,"y":8,"g":"MN"},{"x":0.04,"y":8,"g":"N"},{"x":0.75,"y":8,"g":"N"},{"x":0.95,"y":8,"g":"N"},{"x":0.47,"y":8,"g":"MS"},{"x":1.58,"y":8,"g":"MS"},{"x":2.45,"y":8,"g":"MS"},{"x":2.7,"y":8,"g":"MS"},{"x":2.9,"y":8,"g":"MS"},{"x":3.2,"y":8,"g":"MS"},
{"x":-1.94,"y":7,"g":"MN"},{"x":-1.07,"y":7,"g":"MN"},{"x":0.7,"y":7,"g":"N"},{"x":0.95,"y":7,"g":"N"},{"x":1.35,"y":7,"g":"N"},{"x":1.6,"y":7,"g":"N"},{"x":1.85,"y":7,"g":"N"},{"x":2.2,"y":7,"g":"N"},{"x":2.45,"y":7,"g":"N"},{"x":2.7,"y":7,"g":"N"},{"x":3.05,"y":7,"g":"N"},{"x":3.35,"y":7,"g":"N"},
{"x":-2.74,"y":6,"g":"MN"},{"x":-2.37,"y":6,"g":"MN"},{"x":-1.94,"y":6,"g":"MN"},{"x":-1.15,"y":6,"g":"MN"},{"x":-0.85,"y":6,"g":"MN"},{"x":-0.15,"y":6,"g":"MN"},{"x":0.7,"y":6,"g":"N"},{"x":0.95,"y":6,"g":"N"},{"x":1.5,"y":6,"g":"N"},{"x":1.65,"y":6,"g":"N"},{"x":2.0,"y":6,"g":"N"},{"x":2.45,"y":6,"g":"N"},{"x":3.12,"y":6,"g":"N"},{"x":4.03,"y":6,"g":"N"},
{"x":-2.86,"y":5,"g":"MN"},{"x":-0.95,"y":5,"g":"MN"},{"x":-0.15,"y":5,"g":"MN"},{"x":0.1,"y":5,"g":"N"},{"x":0.6,"y":5,"g":"N"},{"x":0.85,"y":5,"g":"N"},{"x":1.05,"y":5,"g":"N"},{"x":1.46,"y":5,"g":"N"},{"x":2.45,"y":5,"g":"N"},{"x":3.19,"y":5,"g":"N"},{"x":4.03,"y":5,"g":"N"},
{"x":-1.95,"y":4,"g":"MN"},{"x":-1.8,"y":4,"g":"MN"},{"x":-1.15,"y":4,"g":"MN"},{"x":-0.85,"y":4,"g":"MN"},{"x":-0.15,"y":4,"g":"MN"},{"x":0.6,"y":4,"g":"N"},{"x":0.85,"y":4,"g":"N"},{"x":1.1,"y":4,"g":"N"},{"x":1.5,"y":4,"g":"N"},{"x":1.65,"y":4,"g":"N"},{"x":1.89,"y":4,"g":"N"},{"x":2.45,"y":4,"g":"N"},{"x":3.0,"y":4,"g":"N"},{"x":3.31,"y":4,"g":"N"},{"x":4.03,"y":4,"g":"N"},
{"x":-1.75,"y":3,"g":"MN"},{"x":-0.89,"y":3,"g":"MN"},{"x":-0.35,"y":3,"g":"MN"},{"x":-0.15,"y":3,"g":"MN"},{"x":0.1,"y":3,"g":"N"},{"x":0.5,"y":3,"g":"N"},{"x":0.65,"y":3,"g":"N"},{"x":1.46,"y":3,"g":"N"},{"x":1.89,"y":3,"g":"N"},{"x":2.2,"y":3,"g":"N"},{"x":2.45,"y":3,"g":"N"},{"x":2.7,"y":3,"g":"N"},{"x":2.94,"y":3,"g":"N"},{"x":3.25,"y":3,"g":"N"},{"x":3.68,"y":3,"g":"N"},{"x":4.03,"y":3,"g":"N"},
{"x":-0.89,"y":2,"g":"MN"},{"x":-0.15,"y":2,"g":"MN"},{"x":0.66,"y":2,"g":"N"},{"x":1.2,"y":2,"g":"N"},{"x":1.45,"y":2,"g":"N"},{"x":1.6,"y":2,"g":"N"},{"x":1.8,"y":2,"g":"N"},{"x":2.0,"y":2,"g":"N"},{"x":2.2,"y":2,"g":"N"},{"x":2.45,"y":2,"g":"N"},{"x":2.82,"y":2,"g":"N"},{"x":3.2,"y":2,"g":"N"},{"x":3.35,"y":2,"g":"N"},{"x":4.03,"y":2,"g":"N"},
{"x":-0.02,"y":1,"g":"MN"},{"x":0.65,"y":1,"g":"N"},{"x":0.9,"y":1,"g":"N"},{"x":1.45,"y":1,"g":"N"},{"x":1.6,"y":1,"g":"N"},{"x":1.89,"y":1,"g":"N"},{"x":2.35,"y":1,"g":"N"},{"x":2.5,"y":1,"g":"N"},{"x":3.37,"y":1,"g":"N"},{"x":4.03,"y":1,"g":"N"},
{"x":1.46,"y":0,"g":"N"},{"x":1.89,"y":0,"g":"N"},{"x":2.35,"y":0,"g":"N"},{"x":2.5,"y":0,"g":"N"},{"x":4.03,"y":0,"g":"N"}
],
"la": [
{"g":"MN","label":"Misclassified Non−Spectrum"},
{"g":"MS","label":"Misclassified Spectrum"},
{"g":"N","label":"Non−spectrum"},
{"g":"S","label":"Spectrum"}
],
"lb": [
{"g":"MN","label":"Misclassified Non−spectrum"},
{"g":"MS","label":"Misclassified Spectrum"},
{"g":"N","label":"Non−spectrum"},
{"g":"S","label":"Spectrum"}
]
},
"vconcat": [
{
"hconcat": [
{
"width": 397, "height": 438,
"view": {"fill": "#E5E5E5", "stroke": null},
"title": {"text": "a", "anchor": "start", "frame": "bounds", "fontSize": 20, "fontWeight": "bold", "dy": 27, "color": "#000000"},
"layer": [
{"data": {"name": "a"}, "mark": {"type": "circle", "size": 46, "opacity": 1},
"encoding": {
"x": {"field": "x", "type": "quantitative", "scale": {"domain": [-10.06, 4.64], "nice": false, "zero": false},
"axis": {"title": "OBC Score", "format": "d", "values": [-10,-9,-8,-7,-6,-5,-4,-3,-2,-1,0,1,2,3,4], "labelExpr": "datum.value % 2 === 0 ? datum.label : ''", "tickOpacity": {"condition": {"test": "datum.value % 2 !== 0", "value": 0}, "value": 1}, "gridColor": {"condition": {"test": "datum.value % 2 !== 0", "value": "#F2F2F2"}, "value": "#FFFFFF"}, "gridWidth": {"condition": {"test": "datum.value % 2 !== 0", "value": 0.8}, "value": 1.6}, "offset": 2, "labelPadding": 4, "titlePadding": 13}},
"y": {"field": "y", "type": "quantitative", "scale": {"domain": [-1.25, 27.3], "nice": false, "zero": false},
"axis": {"title": "ADOS−G Total Score", "format": "d", "values": [0,2.5,5,7.5,10,12.5,15,17.5,20,22.5,25], "labelExpr": "datum.value % 5 === 0 ? datum.label : ''", "tickOpacity": {"condition": {"test": "datum.value % 5 !== 0", "value": 0}, "value": 1}, "gridColor": {"condition": {"test": "datum.value % 5 !== 0", "value": "#F2F2F2"}, "value": "#FFFFFF"}, "gridWidth": {"condition": {"test": "datum.value % 5 !== 0", "value": 0.8}, "value": 1.6}, "offset": 3, "labelPadding": 8, "titlePadding": 18}},
"color": {"field": "g", "type": "nominal", "scale": {"domain": ["MN","MS","N","S"], "range": ["#F8766D","#7CAE00","#00BFC4","#C77CFF"]}, "legend": null}
}},
{"data": {"values": [{}]}, "mark": {"type": "rule", "color": "#000000", "strokeWidth": 1.6}, "encoding": {"x": {"datum": 0}}}
]
},
{
"width": 42, "height": 438,
"data": {"name": "la"},
"encoding": {"y": {"field": "g", "type": "nominal", "scale": {"type": "band", "domain": ["MN","MS","N","S"], "range": [145, 317], "paddingInner": 0, "paddingOuter": 0}, "axis": null}},
"layer": [
{"mark": {"type": "square", "size": 1764, "color": "#F2F2F2", "opacity": 1, "filled": true}},
{"mark": {"type": "circle", "size": 36, "opacity": 1}, "encoding": {"color": {"field": "g", "type": "nominal", "scale": {"domain": ["MN","MS","N","S"], "range": ["#F8766D","#7CAE00","#00BFC4","#C77CFF"]}, "legend": null}}},
{"mark": {"type": "text", "align": "left", "baseline": "middle", "dx": 35, "fontSize": 16, "color": "#1A1A1A"}, "encoding": {"text": {"field": "label"}}}
]
}
],
"spacing": 20,
"resolve": {"scale": {"x": "independent", "y": "independent"}}
},
{
"hconcat": [
{
"width": 397, "height": 437,
"view": {"fill": "#E5E5E5", "stroke": null},
"title": {"text": "b", "anchor": "start", "frame": "bounds", "fontSize": 20, "fontWeight": "bold", "dy": 27, "color": "#000000"},
"layer": [
{"data": {"name": "b"}, "mark": {"type": "circle", "size": 46, "opacity": 1},
"encoding": {
"x": {"field": "x", "type": "quantitative", "scale": {"domain": [-10.06, 4.64], "nice": false, "zero": false},
"axis": {"title": "OBC Score", "format": "d", "values": [-10,-9,-8,-7,-6,-5,-4,-3,-2,-1,0,1,2,3,4], "labelExpr": "datum.value % 2 === 0 ? datum.label : ''", "tickOpacity": {"condition": {"test": "datum.value % 2 !== 0", "value": 0}, "value": 1}, "gridColor": {"condition": {"test": "datum.value % 2 !== 0", "value": "#F2F2F2"}, "value": "#FFFFFF"}, "gridWidth": {"condition": {"test": "datum.value % 2 !== 0", "value": 0.8}, "value": 1.6}, "offset": 2, "labelPadding": 4, "titlePadding": 13}},
"y": {"field": "y", "type": "quantitative", "scale": {"domain": [-1.4, 32.4], "nice": false, "zero": false},
"axis": {"title": "ADOS−2 Total Score", "format": "d", "values": [0,2.5,5,7.5,10,12.5,15,17.5,20,22.5,25,27.5,30], "labelExpr": "datum.value % 5 === 0 ? datum.label : ''", "tickOpacity": {"condition": {"test": "datum.value % 5 !== 0", "value": 0}, "value": 1}, "gridColor": {"condition": {"test": "datum.value % 5 !== 0", "value": "#F2F2F2"}, "value": "#FFFFFF"}, "gridWidth": {"condition": {"test": "datum.value % 5 !== 0", "value": 0.8}, "value": 1.6}, "offset": 3, "labelPadding": 8, "titlePadding": 18}},
"color": {"field": "g", "type": "nominal", "scale": {"domain": ["MN","MS","N","S"], "range": ["#F8766D","#7CAE00","#00BFC4","#C77CFF"]}, "legend": null}
}},
{"data": {"values": [{}]}, "mark": {"type": "rule", "color": "#000000", "strokeWidth": 1.6}, "encoding": {"x": {"datum": 0}}}
]
},
{
"width": 42, "height": 437,
"data": {"name": "lb"},
"encoding": {"y": {"field": "g", "type": "nominal", "scale": {"type": "band", "domain": ["MN","MS","N","S"], "range": [145, 317], "paddingInner": 0, "paddingOuter": 0}, "axis": null}},
"layer": [
{"mark": {"type": "square", "size": 1764, "color": "#F2F2F2", "opacity": 1, "filled": true}},
{"mark": {"type": "circle", "size": 36, "opacity": 1}, "encoding": {"color": {"field": "g", "type": "nominal", "scale": {"domain": ["MN","MS","N","S"], "range": ["#F8766D","#7CAE00","#00BFC4","#C77CFF"]}, "legend": null}}},
{"mark": {"type": "text", "align": "left", "baseline": "middle", "dx": 35, "fontSize": 16, "color": "#1A1A1A"}, "encoding": {"text": {"field": "label"}}}
]
}
],
"spacing": 20,
"resolve": {"scale": {"x": "independent", "y": "independent"}}
}
],
"spacing": 27,
"resolve": {"scale": {"x": "independent", "y": "independent", "color": "independent"}},
"config": {
"font": "Liberation Sans",
"view": {"stroke": null},
"title": {"font": "Liberation Sans"},
"axis": {"domain": false, "labelFont": "Liberation Sans", "titleFont": "Liberation Sans", "labelFontSize": 16, "labelColor": "#444444", "titleFontSize": 16, "titleFontWeight": "normal", "titleColor": "#000000", "tickColor": "#333333", "tickSize": 6, "tickWidth": 1, "labelFlush": false, "labelOverlap": false}
}
}
